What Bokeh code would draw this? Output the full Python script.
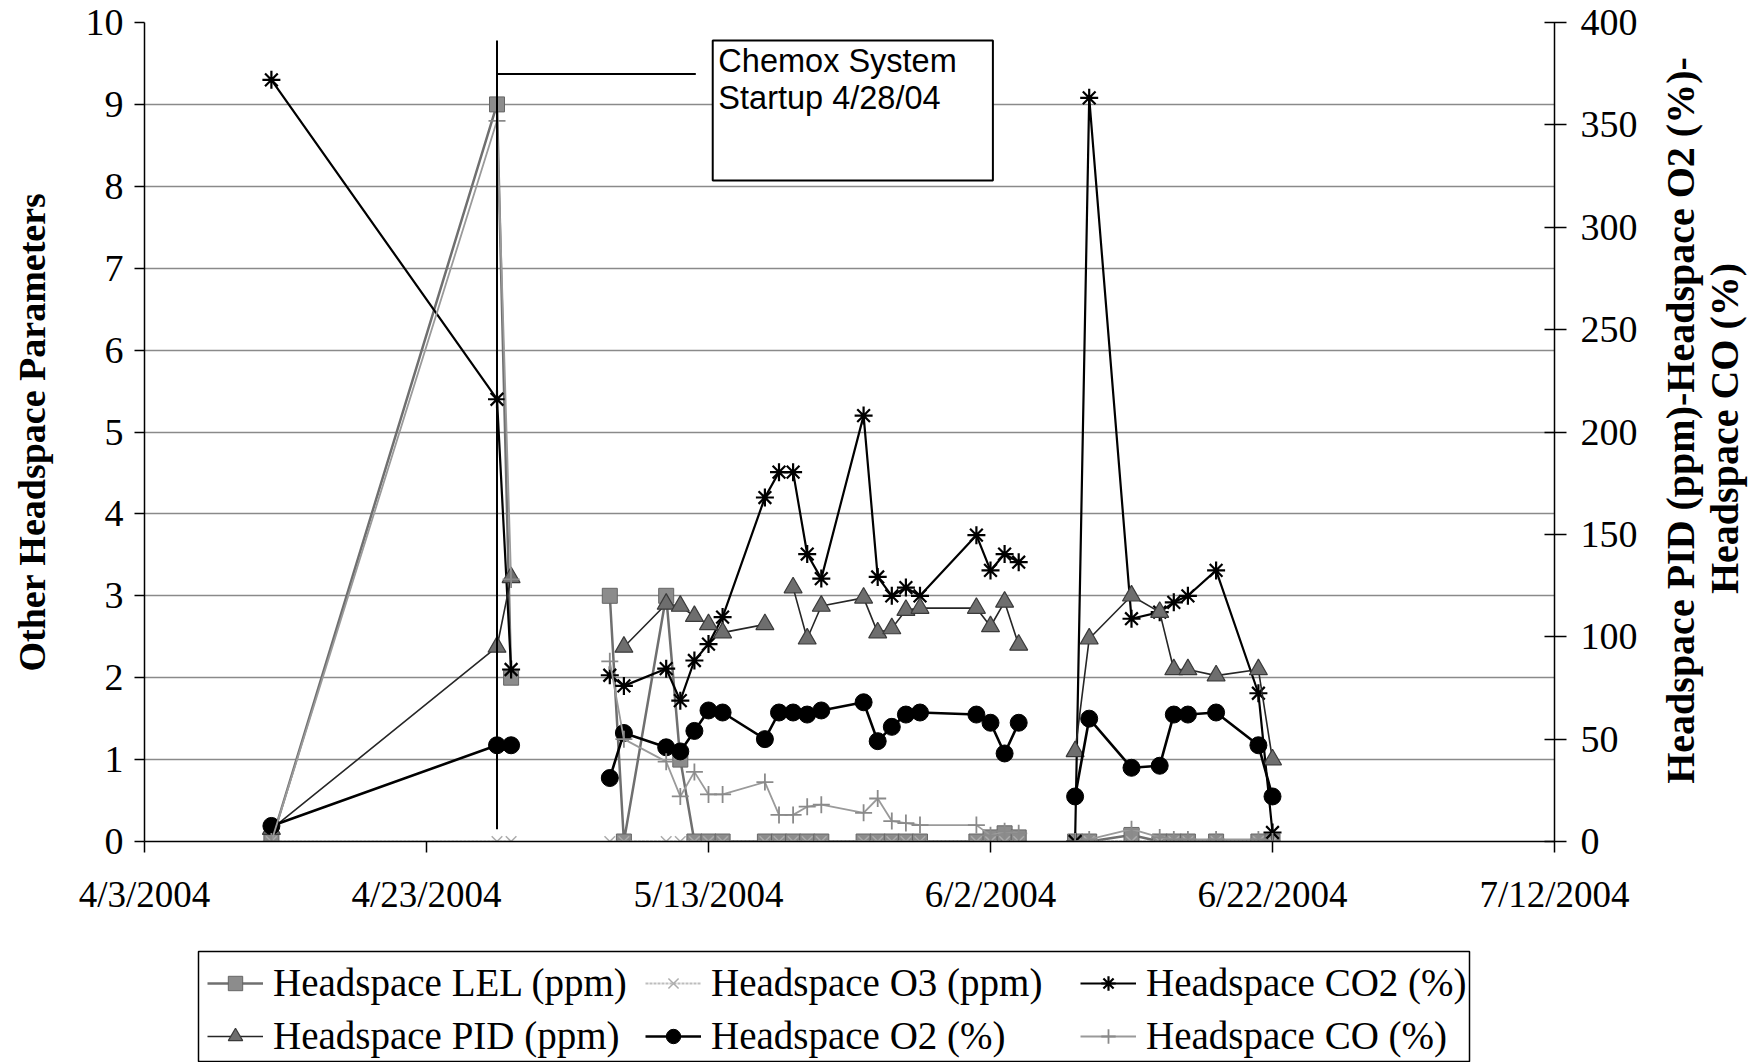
import math
import pandas as pd
from bokeh.plotting import figure
from bokeh.layouts import column, row
from bokeh.models import (Range1d, LinearAxis, FixedTicker, Legend, LegendItem, Label,
                          BoxAnnotation, ColumnDataSource)
from bokeh.embed import file_html
from bokeh.resources import INLINE

nan = float("nan")

# ---------------- data ----------------
origin = "2004-04-03"
dates = ["2004-04-12", "2004-04-28", "2004-04-29", "2004-05-03",
         "2004-05-06", "2004-05-07", "2004-05-10", "2004-05-11", "2004-05-12", "2004-05-13", "2004-05-14",
         "2004-05-17", "2004-05-18", "2004-05-19", "2004-05-20", "2004-05-21",
         "2004-05-24", "2004-05-25", "2004-05-26", "2004-05-27", "2004-05-28",
         "2004-06-01", "2004-06-02", "2004-06-03", "2004-06-04", "2004-06-06",
         "2004-06-08", "2004-06-09", "2004-06-12", "2004-06-14", "2004-06-15", "2004-06-16",
         "2004-06-18", "2004-06-21", "2004-06-22"]

# left axis series
lel = [0, 9.0, 2.0, nan,
       3.0, 0, 3.0, 1.0, 0, 0, 0,
       0, 0, 0, 0, 0,
       0, 0, 0, 0, 0,
       0, 0.05, 0.1, 0.05, nan,
       0, 0, 0.08, 0, 0, 0, 0, 0, 0]
o3 = [0, 0, 0, nan,
      0, 0, 0, 0, 0, 0, 0,
      0, 0, 0, 0, 0,
      0, 0, 0, 0, 0,
      0, 0, 0, 0, nan,
      0, 0, 0, 0, 0, 0, 0, 0, 0]
co2 = [9.3, 5.4, 2.1, nan,
       2.03, 1.9, 2.11, 1.72, 2.21, 2.41, 2.74,
       4.2, 4.51, 4.51, 3.51, 3.21,
       5.2, 3.23, 3.0, 3.1, 3.0,
       3.74, 3.31, 3.51, 3.41, nan,
       0.0, 9.08, 2.72, 2.8, 2.92, 3.0, 3.31, 1.81, 0.11]
# right axis series
pid = [6, 95, 129, nan,
       nan, 95, 116, 115, 110, 106, 102,
       106, nan, 124, 99, 115,
       119, 102, 104, 113, 114,
       114, 105, 117, 96, nan,
       44, 99, 120, 112, 84, 84, 81, 84, 40]
o2 = [7.6, 47, 47, nan,
      31, 53, 46, 44, 54, 64, 63,
      50, 63, 63, 62, 64,
      68, 49, 56, 62, 63,
      62, 58, 43, 58, nan,
      22, 60, 36, 37, 62, 62, 63, 47, 22]
co = [0, 352, 128, nan,
      88, 50, 39, 22, 34, 23, 23,
      29, 13, 13, 17, 18,
      14, 21, 10, 9, 8,
      8, 3, 5, 4, nan,
      0, 1, 6, 2, 1, 1, 1, 1, 0]

tick_dates = ["2004-04-03", "2004-04-23", "2004-05-13", "2004-06-02", "2004-06-22", "2004-07-12"]
tick_labels = ["4/3/2004", "4/23/2004", "5/13/2004", "6/2/2004", "6/22/2004", "7/12/2004"]
left_ticks = [0, 1, 2, 3, 4, 5, 6, 7, 8, 9, 10]
right_ticks = [0, 50, 100, 150, 200, 250, 300, 350, 400]
startup_date = "2004-04-28"
names = ["Headspace LEL (ppm)", "Headspace O3 (ppm)", "Headspace CO2 (%)",
         "Headspace PID (ppm)", "Headspace O2 (%)", "Headspace CO (%)"]

# ---------------- helpers ----------------
def day(d):
    return float((pd.Timestamp(d) - pd.Timestamp(origin)).days)

x = [day(d) for d in dates]
tick_x = [day(d) for d in tick_dates]
sx = day(startup_date)

src = ColumnDataSource(dict(x=x, lel=lel, o3=o3, co2=co2, pid=pid, o2=o2, co=co))

SERIF = "Liberation Serif"
FS = "37px"
W_MAIN, H_MAIN = 1652, 946
TOTAL_W, TOTAL_H = 1758, 1062
B_TOP, B_BOT = 22, 105          # frame spans page y 22 .. 841

p = figure(width=W_MAIN, height=H_MAIN, output_backend="svg", toolbar_location=None,
           x_range=Range1d(tick_x[0], tick_x[-1]), y_range=Range1d(left_ticks[0], left_ticks[-1]),
           min_border_left=144, min_border_right=98, min_border_top=B_TOP, min_border_bottom=B_BOT,
           outline_line_color=None, background_fill_color="white", border_fill_color="white")
p.extra_y_ranges = {"right": Range1d(right_ticks[0], right_ticks[-1])}

# x axis
xa = p.xaxis[0]
xa.ticker = FixedTicker(ticks=tick_x)
xa.major_label_overrides = {int(t): lab for t, lab in zip(tick_x, tick_labels)}
xa.major_label_text_font = SERIF
xa.major_label_text_font_size = FS
xa.major_label_text_color = "black"
xa.major_label_standoff = 21
xa.axis_line_color = "black"
xa.axis_line_width = 1.5
xa.major_tick_in = 0
xa.major_tick_out = 11
xa.major_tick_line_width = 1.5
xa.minor_tick_line_color = None

# left axis
ya = p.yaxis[0]
ya.ticker = FixedTicker(ticks=left_ticks)
ya.major_label_text_font = SERIF
ya.major_label_text_font_size = "38px"
ya.major_label_text_color = "black"
ya.major_label_standoff = 11
ya.axis_line_color = "black"
ya.axis_line_width = 1.5
ya.major_tick_in = 0
ya.major_tick_out = 10
ya.major_tick_line_width = 1.5
ya.minor_tick_line_color = None
ya.axis_label = "Other Headspace Parameters"
ya.axis_label_text_font = SERIF
ya.axis_label_text_font_style = "bold"
ya.axis_label_text_font_size = "38px"
ya.axis_label_text_color = "black"
ya.axis_label_standoff = 30

# right axis
ra = LinearAxis(y_range_name="right", ticker=FixedTicker(ticks=right_ticks))
ra.major_label_text_font = SERIF
ra.major_label_text_font_size = "38px"
ra.major_label_text_color = "black"
ra.major_label_standoff = 14
ra.axis_line_color = "black"
ra.axis_line_width = 1.5
ra.major_tick_in = 10
ra.major_tick_out = 12
ra.major_tick_line_width = 1.5
ra.minor_tick_line_color = None
p.add_layout(ra, "right")

# grid
p.xgrid.visible = False
p.ygrid.ticker = FixedTicker(ticks=left_ticks)
p.ygrid.grid_line_color = "#8a8a8a"
p.ygrid.grid_line_width = 1.3

# ---------------- series styles ----------------
styles = {
    "lel": dict(line=dict(line_color="#6f6f6f", line_width=2.5),
                mark=dict(marker="square", size=15, fill_color="#8c8c8c", line_color="#666666", line_width=1)),
    "o3": dict(line=dict(line_color="#bdbdbd", line_width=2, line_dash="3 1"),
               mark=dict(marker="x", size=15, line_color="#acacac", line_width=1.5)),
    "co2": dict(line=dict(line_color="black", line_width=2.2),
                mark=dict(marker="asterisk", size=18, line_color="black", line_width=2.2)),
    "pid": dict(line=dict(line_color="#262626", line_width=1.6),
                mark=dict(marker="triangle", size=18, fill_color="#6e6e6e", line_color="#3a3a3a", line_width=1.2)),
    "o2": dict(line=dict(line_color="black", line_width=2.6),
               mark=dict(marker="circle", size=17, fill_color="black", line_color="black")),
    "co": dict(line=dict(line_color="#9a9a9a", line_width=1.8),
               mark=dict(marker="cross", size=17, line_color="#8a8a8a", line_width=1.8)),
}
keys = ["lel", "o3", "co2", "pid", "o2", "co"]
right_keys = {"pid", "o2", "co"}

for k in keys:
    kw = dict(y_range_name="right") if k in right_keys else {}
    p.line("x", k, source=src, **styles[k]["line"], **kw)
    p.scatter("x", k, source=src, **styles[k]["mark"], **kw)

# ---------------- startup annotation ----------------
p.segment(x0=[sx], y0=[0.15], x1=[sx], y1=[9.78], line_color="black", line_width=2)
p.segment(x0=[sx], y0=[9.37], x1=[39.1], y1=[9.37], line_color="black", line_width=2)
p.add_layout(BoxAnnotation(left=40.3, right=60.17, bottom=8.07, top=9.78,
                           fill_color="white", fill_alpha=1.0,
                           line_color="black", line_width=2, line_alpha=1.0))
p.add_layout(Label(x=40.7, y=9.75, text="Chemox System", text_font="Liberation Sans",
                   text_font_size="32.5px", text_baseline="top", text_color="black"))
p.add_layout(Label(x=40.7, y=9.3, text="Startup 4/28/04", text_font="Liberation Sans",
                   text_font_size="32.5px", text_baseline="top", text_color="black"))

# ---------------- right axis title panel ----------------
TW = TOTAL_W - W_MAIN
FRAME_H = H_MAIN - B_TOP - B_BOT
tfig = figure(width=TW, height=H_MAIN, output_backend="svg", toolbar_location=None,
              x_range=Range1d(0, TW), y_range=Range1d(0, FRAME_H),
              x_axis_type=None, y_axis_type=None,
              min_border_left=0, min_border_right=0, min_border_top=B_TOP, min_border_bottom=B_BOT,
              outline_line_color=None, background_fill_color="white", border_fill_color="white")
tfig.grid.visible = False
page_bottom = H_MAIN - B_BOT
tfig.add_layout(Label(x=28, y=page_bottom - 420, angle=math.pi / 2,
                      text="Headspace PID (ppm)-Headspace O2 (%)-", text_font=SERIF,
                      text_font_style="bold", text_font_size="40px", text_align="center",
                      text_baseline="middle", text_color="black"))
tfig.add_layout(Label(x=72, y=page_bottom - 428, angle=math.pi / 2,
                      text="Headspace CO (%)", text_font=SERIF,
                      text_font_style="bold", text_font_size="40px", text_align="center",
                      text_baseline="middle", text_color="black"))

# ---------------- legend panel ----------------
LH = TOTAL_H - H_MAIN
lfig = figure(width=TOTAL_W, height=LH, output_backend="svg", toolbar_location=None,
              x_range=Range1d(0, TOTAL_W), y_range=Range1d(0, LH),
              x_axis_type=None, y_axis_type=None, min_border=0,
              outline_line_color=None, background_fill_color="white", border_fill_color="white")
lfig.grid.visible = False
# legend frame (page y 951 .. 1061)
lfig.quad(left=[198], right=[1469], bottom=[1], top=[LH - 5],
          fill_color="white", line_color="black", line_width=1.5)

proxies = {}
for k in keys:
    lr = lfig.line(x=[nan], y=[nan], **styles[k]["line"])
    mr = lfig.scatter(x=[nan], y=[nan], **styles[k]["mark"])
    proxies[k] = [lr, mr]

col_x = [207, 645, 1080]
for c in range(3):
    k_top, k_bot = keys[c], keys[c + 3]
    lg = Legend(items=[LegendItem(label=names[c], renderers=proxies[k_top]),
                       LegendItem(label=names[c + 3], renderers=proxies[k_bot])],
                location=(col_x[c], 4), orientation="vertical",
                label_text_font=SERIF, label_text_font_size="39px", label_text_color="black",
                glyph_width=56, glyph_height=36, label_standoff=10, label_height=45,
                spacing=8, padding=0, margin=0,
                border_line_color=None, background_fill_alpha=0.0)
    lfig.add_layout(lg)

layout = column(row(p, tfig, spacing=0), lfig, spacing=0)
open("out.html", "w").write(file_html(layout, INLINE))
